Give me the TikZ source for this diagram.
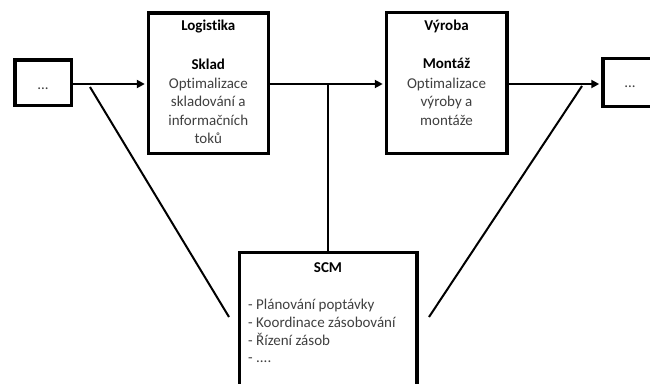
\documentclass[tikz,border=0pt]{standalone}
\usepackage{fontspec}
\setmainfont{Carlito}[Ligatures=NoCommon]
\usetikzlibrary{arrows.meta}
\definecolor{bodygray}{HTML}{404040}
\begin{document}
\begin{tikzpicture}[x=1pt,y=-1pt,
  box/.style={draw=black, line width=3.5pt, inner sep=0pt, fill=white},
  flowline/.style={line width=2pt},
  flowarrow/.style={line width=2pt, shorten >=1.75pt, -{Triangle[length=8pt,width=8pt]}},
  title/.style={anchor=base, inner sep=0pt, text=black, font=\fontsize{15}{18}\selectfont\bfseries},
  body/.style={anchor=base, inner sep=0pt, text=bodygray, font=\fontsize{15}{18}\selectfont},
  item/.style={body, anchor=base west},
]
\useasboundingbox (0,0) rectangle (650,383);
\clip (0,0) rectangle (650,383);
\fill[white] (0,0) rectangle (650,383);

% boxes of the chain
\node[box, minimum width=56.5pt, minimum height=45.5pt] (in) at (43,82.5) {};
\node[box, minimum width=120pt, minimum height=140.5pt] (log) at (208.3,83) {};
\node[box, minimum width=120.5pt, minimum height=141pt] (vyr) at (446.5,82.8) {};
\node[box, minimum width=66.5pt, minimum height=48pt] (out) at (636,82.3) {};
\node[box, minimum width=177.5pt, minimum height=150pt] (scm) at (328,327.25) {};

% level of the material flow
\coordinate (flow) at (0,84);

% material flow
\draw[flowarrow] (in.east |- flow) -- (log.west |- flow);
\draw[flowarrow] (log.east |- flow) -- (vyr.west |- flow);
\draw[flowarrow] (vyr.east |- flow) -- (out.west |- flow);

% SCM links
\draw[flowline] (scm.north) -- (scm.north |- flow);
\coordinate (dl-top) at (90,87);
\coordinate (dl-bot) at (229,317);
\coordinate (dr-top) at (582,86);
\coordinate (dr-bot) at (429,317);
\draw[flowline] (dl-top) -- (dl-bot);
\draw[flowline] (dr-top) -- (dr-bot);

% texts
\node[body] (in-t) at (43,89) {...};
\node[body] (out-t) at (630,87) {...};

\node[title] (log-t) at (208.3,30.5) {Logistika};
\node[title] (log-s) at (208.3,69) {Sklad};
\node[body] (log-1) at (208.3,88) {Optimalizace};
\node[body] (log-2) at (208.3,106.5) {skladování a};
\node[body] (log-3) at (208.3,125) {informačních};
\node[body] (log-4) at (208.3,143.5) {toků};

\node[title] (vyr-t) at (446.5,30) {Výroba};
\node[title] (vyr-s) at (446.5,68.5) {Montáž};
\node[body] (vyr-1) at (446.5,88) {Optimalizace};
\node[body] (vyr-2) at (446.5,106.5) {výroby a};
\node[body] (vyr-3) at (446.5,125) {montáže};

\node[title] (scm-t) at (328,272) {SCM};
\node[item] (scm-1) at (248,309.5) {- Plánování poptávky};
\node[item] (scm-2) at (248,327.3) {- Koordinace zásobování};
\node[item] (scm-3) at (248,345.1) {- Řízení zásob};
\node[item] (scm-4) at (248,362.9) {- ....};
\end{tikzpicture}
\end{document}
